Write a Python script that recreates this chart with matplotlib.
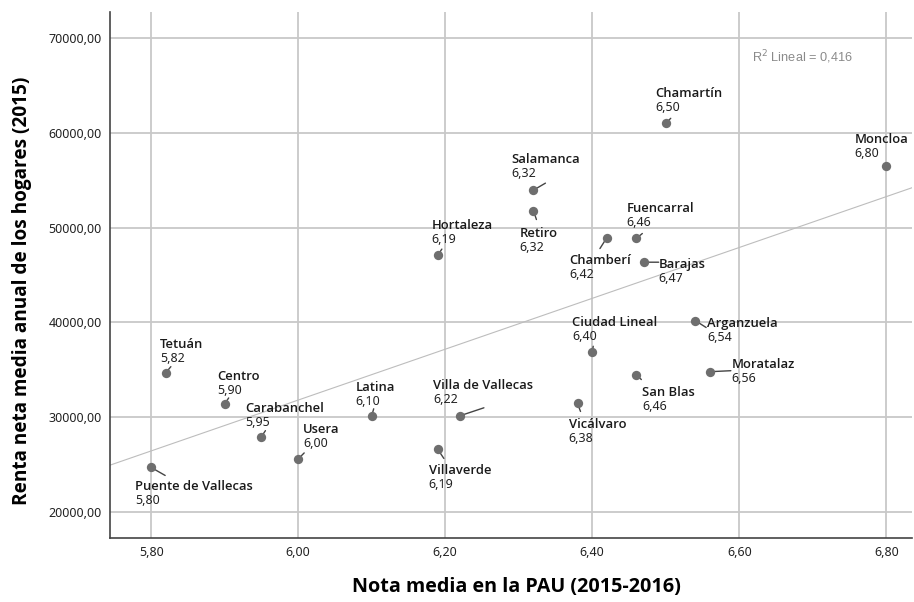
import numpy as np
import matplotlib.pyplot as plt
from matplotlib.ticker import FuncFormatter

# Distritos de Madrid: nota media PAU vs renta neta media de los hogares
distritos = ['Tetuán', 'Centro', 'Carabanchel', 'Usera', 'Latina',
             'Villa de Vallecas', 'Villaverde', 'Puente de Vallecas',
             'Hortaleza', 'Salamanca', 'Retiro', 'Chamberí', 'Fuencarral',
             'Barajas', 'Chamartín', 'Moncloa', 'Ciudad Lineal',
             'Arganzuela', 'San Blas', 'Moratalaz', 'Vicálvaro']
nota_pau = [5.82, 5.90, 5.95, 6.00, 6.10, 6.22, 6.19, 5.80, 6.19, 6.32,
            6.32, 6.42, 6.46, 6.47, 6.50, 6.80, 6.40, 6.54, 6.46, 6.56, 6.38]
renta = [34700, 31400, 27950, 25600, 30150, 30150, 26600, 24700, 47100,
         53950, 51800, 48950, 48850, 46350, 61000, 56500, 36850, 40200,
         34500, 34800, 31450]

# posicion de la etiqueta (px respecto al punto) y extremo de la linea guia
label_offsets = {
    'Tetuán': (-6, 35, 5, 6), 'Centro': (-7, 34, 4, 6),
    'Carabanchel': (-16, 35, 4, 6), 'Usera': (5, 36, 6, 6),
    'Latina': (-16, 35, 2, 7), 'Villa de Vallecas': (-27, 37, 24, 8),
    'Villaverde': (-9, -15, 6, -9), 'Puente de Vallecas': (-16, -13, 14, -8),
    'Hortaleza': (-6, 36, 4, 6), 'Salamanca': (-22, 37, 12, 7),
    'Retiro': (-14, -16, 3, -9), 'Chamberí': (-38, -16, -7, -11),
    'Fuencarral': (-10, 36, 6, 5), 'Barajas': (15, 4, 15, 0),
    'Chamartín': (-10, 36, 5, 5), 'Moncloa': (-32, 33, 0, 0),
    'Ciudad Lineal': (-20, 36, 1, 6), 'Arganzuela': (12, 4, 11, -7),
    'San Blas': (6, -11, 5, -5), 'Moratalaz': (22, 14, 21, 1),
    'Vicálvaro': (-9, -15, 3, -8),
}

x = np.array(nota_pau)
y = np.array(renta)

fig = plt.figure(figsize=(9.14, 6.02), dpi=100)
ax = fig.add_axes([110 / 914, 64 / 602, 802 / 914, 526 / 602])

ax.set_xlim(5.744, 6.835)
ax.set_ylim(17260, 72740)
ax.set_xticks([5.8, 6.0, 6.2, 6.4, 6.6, 6.8])
ax.set_yticks([20000, 30000, 40000, 50000, 60000, 70000])
ax.xaxis.set_major_formatter(FuncFormatter(lambda v, p: f'{v:.2f}'.replace('.', ',')))
ax.yaxis.set_major_formatter(FuncFormatter(lambda v, p: f'{v:.2f}'.replace('.', ',')))
ax.tick_params(length=0, labelsize=9, colors='#222222', pad=6)
for lbl in ax.get_xticklabels() + ax.get_yticklabels():
    lbl.set_family('Noto Sans')

ax.grid(True, color='#c8c8c8', linewidth=1.3)
ax.set_axisbelow(True)
for side in ['top', 'right']:
    ax.spines[side].set_visible(False)
for side in ['left', 'bottom']:
    ax.spines[side].set_color('#444444')
    ax.spines[side].set_linewidth(1.2)

# recta de regresion lineal
coef = np.polyfit(x, y, 1)
r2 = np.corrcoef(x, y)[0, 1] ** 2
xs = np.array(ax.get_xlim())
ax.plot(xs, np.polyval(coef, xs), color='#bdbdbd', linewidth=0.8, zorder=2)

ax.scatter(x, y, s=45, color='#6e6e6e', zorder=4, linewidths=0)

for name, xv, yv, val in zip(distritos, x, y, nota_pau):
    dx, dy, lx, ly = label_offsets[name]
    if lx or ly:
        ax.annotate('', xy=(xv, yv), xytext=(lx, ly), textcoords='offset pixels',
                    arrowprops=dict(arrowstyle='-', color='#444444', lw=1.0,
                                    shrinkA=0, shrinkB=0), zorder=3)
    ax.annotate(name, xy=(xv, yv), xytext=(dx, dy), textcoords='offset pixels',
                ha='left', va='top', fontsize=9.4, fontweight='semibold',
                family='Open Sans', color='#1a1a1a', zorder=5)
    ax.annotate(f'{val:.2f}'.replace('.', ','), xy=(xv, yv), xytext=(dx, dy - 14),
                textcoords='offset pixels', ha='left', va='top', fontsize=9,
                family='Noto Sans', color='#222222', zorder=5)

ax.text(752 / 914, 545 / 602, f'R$^2$ Lineal = {r2:.3f}'.replace('.', ','),
        transform=fig.transFigure, fontsize=9.2, color='#8a8a8a',
        family='Liberation Sans', va='center', ha='left')

ax.set_xlabel('Nota media en la PAU (2015-2016)', fontsize=14.2, fontweight='bold',
              family='Open Sans')
ax.set_ylabel('Renta neta media anual de los hogares (2015)', fontsize=13.7,
              fontweight='bold', family='Open Sans')
ax.xaxis.set_label_coords(0.507, -0.074)
ax.yaxis.set_label_coords(-0.097, 0.47)

fig.savefig('out.png', dpi=100)
